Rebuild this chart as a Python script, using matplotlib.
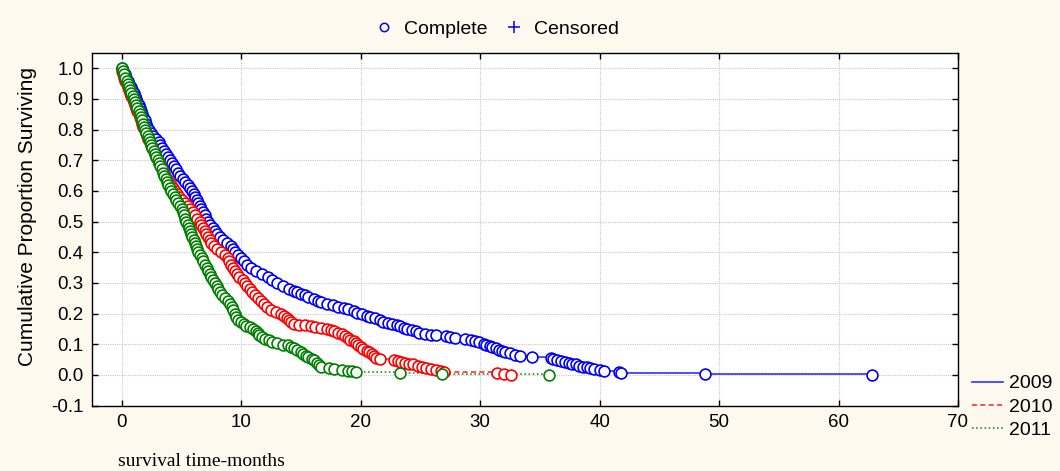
import numpy as np
import matplotlib.pyplot as plt
from matplotlib.lines import Line2D

# Kaplan-Meier estimates per year: event time (months) and cumulative proportion surviving
t_2009 = [0.00, 0.12, 0.25, 0.37, 0.50, 0.62, 0.75, 0.87, 1.00, 1.10, 1.20, 1.30, 1.40, 1.50,
          1.60, 1.70, 1.80, 1.90, 2.00, 2.14, 2.28, 2.43, 2.62, 2.87, 3.07, 3.21, 3.36, 3.50,
          3.67, 3.83, 4.00, 4.17, 4.33, 4.50, 4.70, 4.90, 5.10, 5.30, 5.50, 5.67, 5.83, 6.00,
          6.12, 6.25, 6.37, 6.50, 6.64, 6.79, 6.93, 7.08, 7.25, 7.42, 7.60, 7.80, 8.00, 8.25,
          8.50, 8.83, 9.10, 9.30, 9.50, 9.75, 10.00, 10.25, 10.50, 10.83, 11.25, 11.75, 12.2,
          12.6, 13.0, 13.5, 14.0, 14.4, 14.7, 15.0, 15.3, 15.6, 16.1, 16.4, 16.7, 17.2, 17.7,
          18.1, 18.6, 18.9, 19.4, 19.7, 20.1, 20.5, 20.8, 21.2, 21.6, 21.9, 22.3, 22.6, 23.0,
          23.3, 23.6, 23.9, 24.3, 24.6, 24.9, 25.4, 25.9, 26.3, 27.1, 27.5, 27.9, 28.7, 29.2,
          29.6, 29.9, 30.3, 30.5, 30.8, 31.0, 31.3, 31.6, 31.8, 32.1, 32.5, 32.9, 33.3, 34.3,
          35.9, 36.1, 36.4, 36.8, 37.1, 37.4, 37.7, 38.0, 38.3, 38.6, 38.9, 39.2, 39.5, 40.0,
          40.4, 41.6, 41.8, 48.8, 62.8]
s_2009 = [1.00, 0.99, 0.98, 0.97, 0.96, 0.95, 0.94, 0.93, 0.92, 0.91, 0.90, 0.89, 0.88, 0.87,
          0.86, 0.85, 0.84, 0.83, 0.82, 0.81, 0.80, 0.79, 0.78, 0.77, 0.76, 0.75, 0.74, 0.73,
          0.72, 0.71, 0.70, 0.69, 0.68, 0.67, 0.66, 0.65, 0.64, 0.63, 0.62, 0.61, 0.60, 0.59,
          0.58, 0.57, 0.56, 0.55, 0.54, 0.53, 0.52, 0.51, 0.50, 0.49, 0.48, 0.47, 0.46, 0.45,
          0.44, 0.43, 0.42, 0.41, 0.40, 0.39, 0.38, 0.37, 0.36, 0.35, 0.34, 0.33, 0.32,
          0.31, 0.30, 0.29, 0.28, 0.275, 0.27, 0.265, 0.26, 0.254, 0.248, 0.242, 0.237, 0.232, 0.227,
          0.222, 0.218, 0.214, 0.208, 0.203, 0.197, 0.193, 0.188, 0.184, 0.179, 0.174, 0.170, 0.166, 0.162,
          0.158, 0.154, 0.150, 0.146, 0.142, 0.138, 0.134, 0.131, 0.129, 0.127, 0.124, 0.120, 0.117, 0.114,
          0.110, 0.106, 0.102, 0.098, 0.094, 0.090, 0.086, 0.082, 0.078, 0.074, 0.070, 0.066, 0.063, 0.058,
          0.055, 0.052, 0.049, 0.046, 0.043, 0.040, 0.037, 0.034, 0.030, 0.027, 0.024, 0.021, 0.018, 0.015,
          0.012, 0.009, 0.006, 0.003, 0.000]

t_2010 = [0.00, 0.10, 0.20, 0.30, 0.40, 0.50, 0.60, 0.70, 0.80, 0.90, 1.00, 1.10, 1.20, 1.30,
          1.40, 1.50, 1.60, 1.70, 1.80, 1.90, 2.00, 2.11, 2.22, 2.33, 2.44, 2.56, 2.67, 2.78,
          2.89, 3.00, 3.12, 3.25, 3.37, 3.50, 3.64, 3.79, 3.93, 4.08, 4.25, 4.42, 4.60, 4.80,
          5.00, 5.25, 5.50, 5.71, 5.92, 6.12, 6.31, 6.50, 6.64, 6.79, 6.93, 7.07, 7.21, 7.36,
          7.50, 7.75, 8.00, 8.33, 8.63, 8.88, 9.00, 9.17, 9.33, 9.50, 9.67, 9.83, 10.10, 10.30,
          10.50, 10.70, 10.90, 11.12, 11.38, 11.62, 11.88, 12.17, 12.50, 12.9, 13.3, 13.6, 13.8,
          14.0, 14.2, 14.4, 14.8, 15.3, 15.8, 16.2, 16.7, 17.2, 17.5, 17.8, 18.1, 18.4, 18.7,
          18.9, 19.1, 19.4, 19.6, 19.8, 20.0, 20.2, 20.5, 20.7, 20.9, 21.1, 21.3, 21.6, 22.8,
          23.1, 23.4, 23.7, 24.0, 24.4, 24.8, 25.1, 25.5, 25.9, 26.3, 26.7, 27.0, 31.4, 32.0, 32.6]
s_2010 = [0.99, 0.98, 0.97, 0.96, 0.95, 0.94, 0.93, 0.92, 0.91, 0.90, 0.89, 0.88, 0.87, 0.86,
          0.85, 0.84, 0.83, 0.82, 0.81, 0.80, 0.79, 0.78, 0.77, 0.76, 0.75, 0.74, 0.73, 0.72,
          0.71, 0.70, 0.69, 0.68, 0.67, 0.66, 0.65, 0.64, 0.63, 0.62, 0.61, 0.60, 0.59, 0.58,
          0.57, 0.56, 0.55, 0.54, 0.53, 0.52, 0.51, 0.50, 0.49, 0.48, 0.47, 0.46, 0.45, 0.44,
          0.43, 0.42, 0.41, 0.40, 0.39, 0.38, 0.37, 0.36, 0.35, 0.34, 0.33, 0.32, 0.31, 0.30,
          0.29, 0.28, 0.27, 0.26, 0.25, 0.24, 0.23, 0.22, 0.21, 0.205, 0.199, 0.193, 0.186,
          0.179, 0.173, 0.167, 0.164, 0.162, 0.160, 0.157, 0.154, 0.150, 0.146, 0.142, 0.137, 0.132, 0.127,
          0.121, 0.115, 0.109, 0.103, 0.097, 0.091, 0.085, 0.079, 0.073, 0.067, 0.061, 0.056, 0.052, 0.049,
          0.046, 0.043, 0.040, 0.037, 0.034, 0.030, 0.026, 0.022, 0.019, 0.016, 0.013, 0.010, 0.007, 0.004, 0.001]

t_2011 = [0.00, 0.10, 0.20, 0.30, 0.40, 0.50, 0.60, 0.70, 0.80, 0.90, 1.00, 1.10, 1.20, 1.30,
          1.40, 1.50, 1.59, 1.68, 1.77, 1.86, 1.95, 2.05, 2.15, 2.25, 2.35, 2.45, 2.55, 2.65,
          2.76, 2.88, 3.00, 3.11, 3.22, 3.33, 3.44, 3.56, 3.67, 3.78, 3.89, 4.00, 4.14, 4.28,
          4.43, 4.57, 4.71, 4.86, 5.00, 5.10, 5.20, 5.30, 5.40, 5.50, 5.60, 5.70, 5.80, 5.90,
          6.00, 6.10, 6.20, 6.30, 6.40, 6.50, 6.67, 6.83, 7.00, 7.12, 7.25, 7.37, 7.50, 7.64,
          7.79, 7.93, 8.07, 8.23, 8.40, 8.62, 8.87, 9.06, 9.18, 9.31, 9.44, 9.58, 9.76, 9.95,
          10.2, 10.4, 10.7, 11.0, 11.2, 11.4, 11.5, 11.7, 12.0, 12.3, 12.6, 13.0, 13.5, 13.9,
          14.2, 14.4, 14.7, 15.0, 15.2, 15.4, 15.6, 15.9, 16.1, 16.3, 16.5, 16.7, 17.3, 17.8,
          18.4, 18.9, 19.3, 19.6, 23.3, 26.8, 35.8]
s_2011 = [1.00, 0.99, 0.98, 0.97, 0.96, 0.95, 0.94, 0.93, 0.92, 0.91, 0.90, 0.89, 0.88, 0.87,
          0.86, 0.85, 0.84, 0.83, 0.82, 0.81, 0.80, 0.79, 0.78, 0.77, 0.76, 0.75, 0.74, 0.73,
          0.72, 0.71, 0.70, 0.69, 0.68, 0.67, 0.66, 0.65, 0.64, 0.63, 0.62, 0.61, 0.60, 0.59,
          0.58, 0.57, 0.56, 0.55, 0.54, 0.53, 0.52, 0.51, 0.50, 0.49, 0.48, 0.47, 0.46, 0.45,
          0.44, 0.43, 0.42, 0.41, 0.40, 0.39, 0.38, 0.37, 0.36, 0.35, 0.34, 0.33, 0.32, 0.31,
          0.30, 0.29, 0.28, 0.27, 0.26, 0.25, 0.24, 0.23, 0.22, 0.21, 0.20, 0.19, 0.18, 0.172,
          0.166, 0.160, 0.155, 0.150, 0.143, 0.136, 0.129, 0.123, 0.118, 0.113, 0.108, 0.103, 0.099, 0.096,
          0.091, 0.086, 0.080, 0.074, 0.068, 0.062, 0.057, 0.052, 0.047, 0.040, 0.033, 0.027, 0.023, 0.020,
          0.017, 0.014, 0.011, 0.008, 0.006, 0.004, 0.000]

years = ['2009', '2010', '2011']
colors = ['#0000ff', '#ff0000', '#008000']
line_colors = ['#3030ff', '#ff3030', '#2e8b2e']
styles = ['-', (0, (3, 2)), (0, (1, 1.5))]
series = [(t_2009, s_2009), (t_2010, s_2010), (t_2011, s_2011)]

plt.rcParams['font.family'] = ['Liberation Sans', 'DejaVu Sans']

fig = plt.figure(figsize=(10.6, 4.71), dpi=100)
fig.patch.set_facecolor('#fdf9ef')
ax = fig.add_axes([92 / 1060, 1 - 405.5 / 471, 866 / 1060, 352.5 / 471])
ax.set_facecolor('white')

for (t, s), c, lc, ls in zip(series, colors, line_colors, styles):
    ax.plot(t, s, color=lc, lw=1.2, linestyle=ls, drawstyle='steps-post', zorder=2)
    ax.plot(t, s, linestyle='none', marker='o', markersize=7.8, markerfacecolor='white',
            markeredgecolor=c, markeredgewidth=1.2, zorder=3)

ax.set_xlim(-2.5, 70)
ax.set_ylim(-0.1, 1.05)
yticks = np.round(np.arange(-0.1, 1.01, 0.1), 1)
ax.set_xticks(np.arange(0, 71, 10))
ax.set_yticks(yticks)
ax.set_yticklabels([f'{v:.1f}' for v in yticks])
ax.grid(True, color='#c8c8c8', linestyle=(0, (1, 1)), linewidth=0.8)
ax.set_axisbelow(True)
ax.tick_params(direction='in', length=4, width=1, top=True, right=True, labelsize=13.5,
               colors='black', pad=6)
for sp in ax.spines.values():
    sp.set_linewidth(1.0)
    sp.set_color('black')

fig.text(28 / 1060, 1 - 216 / 471, 'Cumulative Proportion Surviving', rotation=90,
         ha='center', va='center', fontsize=15)
fig.text(118 / 1060, 1 - 462 / 471, 'survival time-months', ha='left', va='center',
         fontsize=14, family=['Liberation Serif', 'DejaVu Serif'])

# marker key at the top
top_handles = [Line2D([], [], linestyle='none', marker='o', markersize=6, markerfacecolor='white',
                      markeredgecolor='#0000ff', markeredgewidth=1.1),
               Line2D([], [], linestyle='none', marker='+', markersize=9,
                      markeredgecolor='#0000ff', markeredgewidth=1.1)]
fig.legend(top_handles, ['Complete', 'Censored'], loc='center', bbox_to_anchor=(497 / 1060, 1 - 29 / 471),
           ncol=2, frameon=False, fontsize=14, handlelength=0.9, handletextpad=0.6, columnspacing=0.9,
           borderpad=0)

# line key for the years
year_handles = [Line2D([], [], color=lc, lw=1.2, linestyle=ls) for lc, ls in zip(line_colors, styles)]
fig.legend(year_handles, years, loc='center left', bbox_to_anchor=(972 / 1060, 1 - 407 / 471),
           frameon=False, fontsize=14, handlelength=1.6, handletextpad=0.3, labelspacing=0.3,
           borderpad=0, borderaxespad=0)

fig.savefig('out.png', dpi=100, facecolor=fig.get_facecolor())
